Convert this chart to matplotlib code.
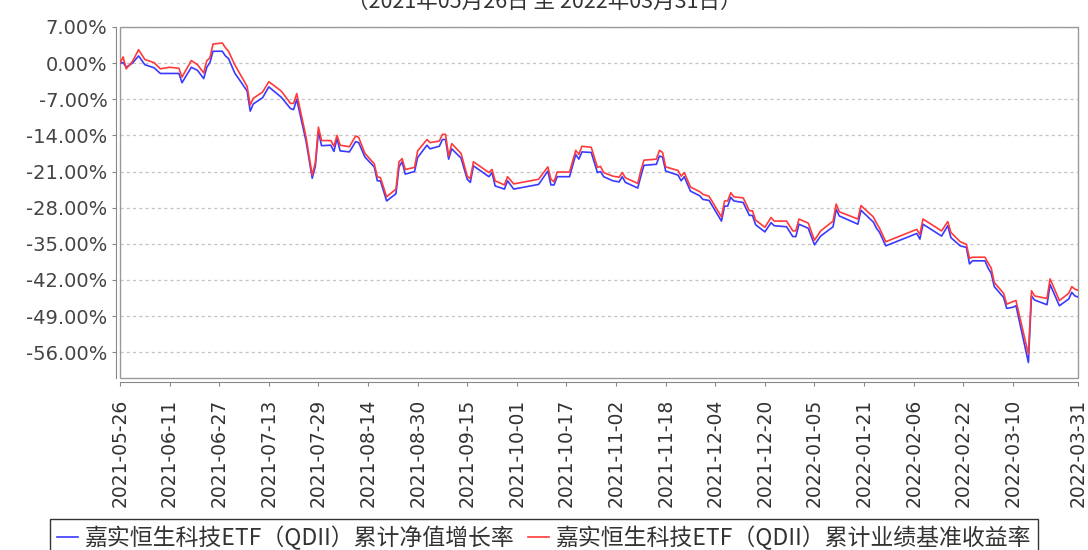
import pandas as pd
import matplotlib.pyplot as plt
from matplotlib.patches import Rectangle

# values (cumulative %)
dates = [
    "2021-05-26", "2021-05-27", "2021-05-28", "2021-05-30", "2021-06-01", "2021-06-03",
    "2021-06-06", "2021-06-08", "2021-06-11", "2021-06-14", "2021-06-15", "2021-06-18",
    "2021-06-20", "2021-06-22", "2021-06-23", "2021-06-24", "2021-06-25", "2021-06-28",
    "2021-06-29", "2021-06-30", "2021-07-02", "2021-07-06", "2021-07-07", "2021-07-08",
    "2021-07-11", "2021-07-13", "2021-07-17", "2021-07-20", "2021-07-21", "2021-07-22",
    "2021-07-25", "2021-07-27", "2021-07-28", "2021-07-29", "2021-07-30", "2021-08-02",
    "2021-08-03", "2021-08-04", "2021-08-05", "2021-08-08", "2021-08-10", "2021-08-11",
    "2021-08-13", "2021-08-16", "2021-08-17", "2021-08-18", "2021-08-20", "2021-08-23",
    "2021-08-24", "2021-08-25", "2021-08-26", "2021-08-29", "2021-08-30", "2021-09-02",
    "2021-09-03", "2021-09-06", "2021-09-07", "2021-09-08", "2021-09-09", "2021-09-10",
    "2021-09-13", "2021-09-15", "2021-09-16", "2021-09-17", "2021-09-22", "2021-09-23",
    "2021-09-24", "2021-09-27", "2021-09-28", "2021-09-30", "2021-10-08", "2021-10-11",
    "2021-10-12", "2021-10-13", "2021-10-14", "2021-10-18", "2021-10-20", "2021-10-21",
    "2021-10-22", "2021-10-25", "2021-10-27", "2021-10-28", "2021-10-29", "2021-11-01",
    "2021-11-03", "2021-11-04", "2021-11-05", "2021-11-09", "2021-11-10", "2021-11-11",
    "2021-11-15", "2021-11-16", "2021-11-17", "2021-11-18", "2021-11-22", "2021-11-23",
    "2021-11-24", "2021-11-26", "2021-11-29", "2021-11-30", "2021-12-02", "2021-12-06",
    "2021-12-07", "2021-12-08", "2021-12-09", "2021-12-10", "2021-12-13", "2021-12-15",
    "2021-12-16", "2021-12-17", "2021-12-20", "2021-12-22", "2021-12-23", "2021-12-27",
    "2021-12-29", "2021-12-30", "2021-12-31", "2022-01-03", "2022-01-05", "2022-01-07",
    "2022-01-11", "2022-01-12", "2022-01-13", "2022-01-19", "2022-01-20", "2022-01-24",
    "2022-01-25", "2022-01-26", "2022-01-28", "2022-02-07", "2022-02-08", "2022-02-09",
    "2022-02-15", "2022-02-17", "2022-02-18", "2022-02-21", "2022-02-23", "2022-02-24",
    "2022-02-25", "2022-03-01", "2022-03-02", "2022-03-03", "2022-03-04", "2022-03-07",
    "2022-03-08", "2022-03-10", "2022-03-11", "2022-03-15", "2022-03-16", "2022-03-17",
    "2022-03-21", "2022-03-22", "2022-03-25", "2022-03-28", "2022-03-29", "2022-03-30",
    "2022-03-31",
]

nav_growth = [
    0.0, 0.1, -0.8, 0.0, 1.4, -0.3,
    -0.9, -2.0, -2.0, -2.0, -3.8, -0.8,
    -1.4, -3.0, -0.8, 0.1, 2.3, 2.3,
    1.4, 0.9, -1.9, -5.4, -9.3, -7.9,
    -6.7, -4.6, -6.6, -8.8, -9.0, -7.0,
    -15.1, -22.3, -20.0, -13.2, -16.0, -15.9,
    -17.1, -14.6, -17.0, -17.2, -15.2, -15.4,
    -18.2, -20.1, -22.8, -22.8, -26.7, -25.3,
    -20.1, -19.1, -21.5, -21.0, -18.3, -15.9,
    -16.6, -16.1, -14.8, -14.8, -18.6, -16.6,
    -18.4, -22.5, -23.1, -19.9, -22.0, -21.2,
    -23.8, -24.4, -22.8, -24.4, -23.5, -20.9,
    -23.6, -23.6, -22.0, -22.0, -17.7, -18.6,
    -17.2, -17.3, -21.2, -21.0, -22.0, -22.8,
    -23.0, -22.0, -23.1, -24.2, -21.9, -19.8,
    -19.6, -18.0, -18.2, -20.9, -21.7, -22.8,
    -22.0, -24.8, -25.7, -26.4, -26.6, -30.6,
    -27.7, -27.7, -26.0, -26.7, -27.0, -29.5,
    -29.5, -31.3, -32.7, -30.9, -31.5, -31.7,
    -33.6, -33.6, -31.2, -32.0, -35.2, -33.5,
    -31.7, -28.3, -29.6, -31.2, -28.5, -30.8,
    -32.0, -32.8, -35.4, -33.0, -34.1, -31.2,
    -33.5, -31.5, -33.8, -35.4, -35.7, -38.9,
    -38.3, -38.3, -39.7, -40.7, -43.3, -45.4,
    -47.5, -47.3, -47.0, -58.0, -45.1, -45.9,
    -46.8, -42.9, -47.0, -45.7, -44.4, -45.1,
    -45.3,
]

benchmark = [
    0.0, 1.2, -1.1, 0.3, 2.6, 0.7,
    0.1, -1.1, -0.8, -1.0, -2.7, 0.5,
    -0.3, -1.9, 0.5, 1.0, 3.7, 3.9,
    3.0, 2.3, -0.3, -4.5, -8.1, -6.8,
    -5.6, -3.6, -5.4, -7.8, -7.8, -5.9,
    -14.3, -21.7, -19.3, -12.4, -15.0, -15.0,
    -16.1, -14.0, -15.9, -16.2, -14.1, -14.4,
    -17.5, -19.5, -22.0, -22.2, -25.9, -24.4,
    -19.1, -18.5, -20.6, -20.2, -17.0, -14.8,
    -15.4, -15.1, -13.8, -13.8, -18.0, -15.6,
    -17.5, -21.9, -22.4, -19.1, -21.2, -20.6,
    -22.8, -23.6, -22.0, -23.4, -22.5, -20.1,
    -22.5, -23.0, -21.1, -21.1, -16.9, -17.7,
    -16.1, -16.3, -20.2, -20.0, -21.2, -21.9,
    -22.1, -21.2, -22.2, -23.3, -20.8, -18.8,
    -18.6, -16.9, -17.3, -20.1, -20.8, -21.9,
    -21.2, -24.0, -24.9, -25.4, -25.8, -29.8,
    -26.7, -26.7, -25.1, -25.9, -26.1, -28.6,
    -28.6, -30.4, -31.8, -29.9, -30.6, -30.6,
    -32.5, -32.5, -30.2, -31.0, -34.3, -32.5,
    -30.6, -27.3, -28.8, -30.2, -27.6, -29.8,
    -31.0, -32.0, -34.6, -32.2, -33.2, -30.2,
    -32.5, -30.7, -32.8, -34.6, -35.1, -37.8,
    -37.6, -37.6, -38.7, -39.7, -42.5, -44.6,
    -46.7, -46.2, -46.0, -56.4, -44.1, -45.1,
    -45.6, -41.8, -46.0, -44.6, -43.3, -43.8,
    -44.0,
]

tick_dates = [
    "2021-05-26", "2021-06-11", "2021-06-27", "2021-07-13", "2021-07-29", "2021-08-14",
    "2021-08-30", "2021-09-15", "2021-10-01", "2021-10-17", "2021-11-02", "2021-11-18",
    "2021-12-04", "2021-12-20", "2022-01-05", "2022-01-21", "2022-02-06", "2022-02-22",
    "2022-03-10", "2022-03-31",
]
y_ticks = [7, 0, -7, -14, -21, -28, -35, -42, -49, -56]

labels = ["嘉实恒生科技ETF（QDII）累计净值增长率", "嘉实恒生科技ETF（QDII）累计业绩基准收益率"]
subtitle = "（2021年05月26日 至 2022年03月31日）"
cjk = ['Noto Sans CJK SC', 'DejaVu Sans']

x = pd.to_datetime(dates)

fig = plt.figure(figsize=(10.88, 5.5), dpi=100)
ax = fig.add_axes([120 / 1088, 1 - 378 / 550, 958 / 1088, 351 / 550])

l1, = ax.plot(x, nav_growth, color='#3a3aff', lw=1.2)
l2, = ax.plot(x, benchmark, color='#ff3a3a', lw=1.2)

ax.set_xlim(pd.Timestamp("2021-05-26"), pd.Timestamp("2022-03-31"))
ax.set_ylim(-61, 7)

ax.set_yticks(y_ticks)
ax.set_yticklabels(["%.2f%%" % v for v in y_ticks])
ax.set_xticks(pd.to_datetime(tick_dates))
ax.set_xticklabels(tick_dates)

ax.yaxis.grid(True, linestyle=(0, (2.5, 2.5)), color='#c4c4c4', lw=0.9)
ax.set_axisbelow(True)

# axis lines sit a few px away from the plot frame
for s in ['top', 'right']:
    ax.spines[s].set_visible(False)
for s in ['left', 'bottom']:
    ax.spines[s].set_position(('outward', 3))
    ax.spines[s].set_color('#888888')
ax.add_patch(Rectangle((0, 0), 1, 1, transform=ax.transAxes, fill=False,
                       edgecolor='#999999', lw=1, clip_on=False))

ax.tick_params(axis='y', length=3, color='#888888', labelsize=14, labelcolor='#444444', pad=3)
ax.tick_params(axis='x', length=3, color='#888888', labelsize=13.5, labelcolor='#333333',
               pad=9, labelrotation=90)

fig.text(0.5, 1 - 8 / 550, subtitle, ha='center', va='baseline', fontsize=15.5,
         family=cjk, color='#333333')

leg = fig.legend([l1, l2], labels, loc='upper center', bbox_to_anchor=(0.5, 1 - 519 / 550),
                 ncol=2, fancybox=False, edgecolor='#333333', framealpha=1,
                 prop={'family': cjk, 'size': 16.5}, handlelength=0.9, handletextpad=0.3,
                 columnspacing=0.6, borderpad=0.3, borderaxespad=0)
leg.get_frame().set_linewidth(1.0)
for t in leg.get_texts():
    t.set_color('#333333')

fig.savefig('out.png', dpi=100)
